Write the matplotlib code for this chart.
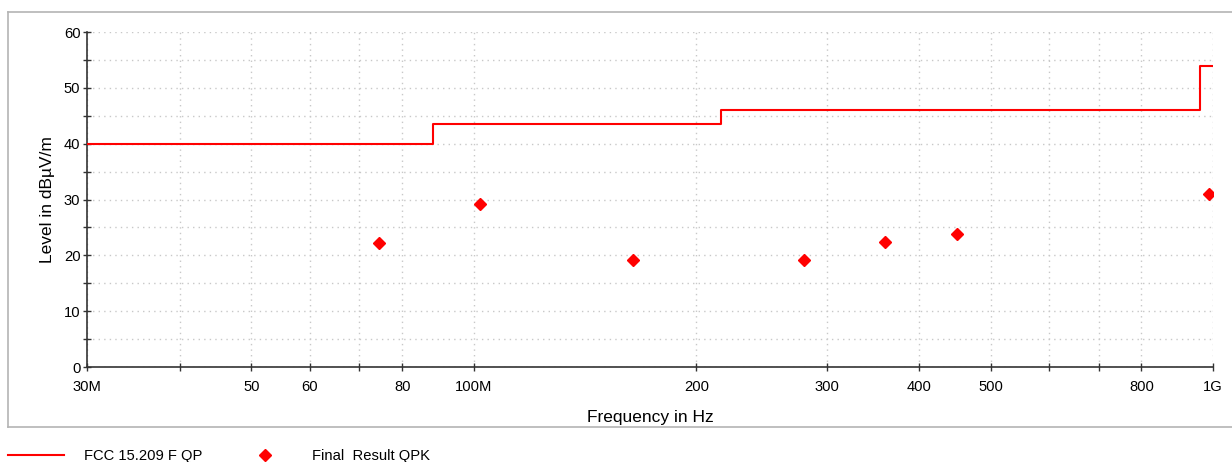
import matplotlib.pyplot as plt
from matplotlib.lines import Line2D
from matplotlib.ticker import FixedLocator, NullFormatter

plt.rcParams['font.family'] = ['Liberation Sans', 'DejaVu Sans']

# limit line (FCC 15.209 QP), step edges in Hz
limit_freq = [30e6, 88e6, 216e6, 960e6, 1000e6]
limit_level = [40, 43.5, 46, 54, 54]

# final result QPK points
result_freq = [74.4e6, 101.8e6, 164.0e6, 279.5e6, 360.3e6, 450.3e6, 988.9e6]
result_level = [22.2, 29.2, 19.2, 19.2, 22.4, 23.8, 31.0]

xtick_vals = [30e6, 40e6, 50e6, 60e6, 70e6, 80e6, 100e6, 200e6, 300e6,
              400e6, 500e6, 600e6, 700e6, 800e6, 1000e6]
xtick_labels = ['30M', '', '50', '60', '', '80', '100M', '200', '300',
                '400', '500', '', '', '800', '1G']
ytick_vals = [0, 10, 20, 30, 40, 50, 60]
yminor_vals = [5, 15, 25, 35, 45, 55]

fig = plt.figure(figsize=(12.32, 4.62), dpi=100)
ax = fig.add_axes([0.0709, 0.2056, 0.9137, 0.7251])

# outer gray frame
frame_col = '#b4b4b4'
fig.add_artist(Line2D([8 / 1232, 1.0], [0.974, 0.974], color=frame_col, lw=1.2))
fig.add_artist(Line2D([8 / 1232, 1.0], [0.0758, 0.0758], color=frame_col, lw=1.2))
fig.add_artist(Line2D([8 / 1232, 8 / 1232], [0.0758, 0.974], color=frame_col, lw=1.2))

ax.step(limit_freq, limit_level, where='post', color='red', lw=1.5, zorder=3)
ax.plot(result_freq, result_level, linestyle='none', marker='D', markersize=6,
        color='red', zorder=4)

ax.set_xscale('log')
ax.set_xlim(30e6, 1000e6)
ax.set_ylim(0, 60)

ax.xaxis.set_major_locator(FixedLocator(xtick_vals))
ax.set_xticklabels(xtick_labels)
ax.xaxis.set_minor_locator(FixedLocator([]))
ax.xaxis.set_minor_formatter(NullFormatter())
ax.yaxis.set_major_locator(FixedLocator(ytick_vals))
ax.yaxis.set_minor_locator(FixedLocator(yminor_vals))

ax.tick_params(axis='both', which='both', direction='inout', length=6,
               width=1, colors='#333333', labelcolor='black', labelsize=10.6)
ax.tick_params(axis='x', pad=6)
ax.tick_params(axis='y', pad=2)

ax.grid(True, which='both', color='#c8c8c8', linestyle=(0, (1, 3)), lw=1)
ax.set_axisbelow(True)

for s in ['top', 'right']:
    ax.spines[s].set_visible(False)
for s in ['left', 'bottom']:
    ax.spines[s].set_color('#333333')
    ax.spines[s].set_linewidth(1.2)

ax.set_xlabel('Frequency in Hz', fontsize=12.5, labelpad=12)
ax.set_ylabel('Level in dBµV/m', fontsize=12.5, labelpad=6)

# legend row at the bottom
fig.add_artist(Line2D([8 / 1232, 64 / 1232], [7 / 462, 7 / 462], color='red', lw=1.5))
fig.text(84 / 1232, 6 / 462, 'FCC 15.209 F QP', fontsize=10.6, va='center')
fig.add_artist(Line2D([265 / 1232], [7 / 462], marker='D', markersize=6,
                      color='red', linestyle='none'))
fig.text(312 / 1232, 6 / 462, 'Final  Result QPK', fontsize=10.6, va='center')

fig.savefig('out.png', dpi=100)
